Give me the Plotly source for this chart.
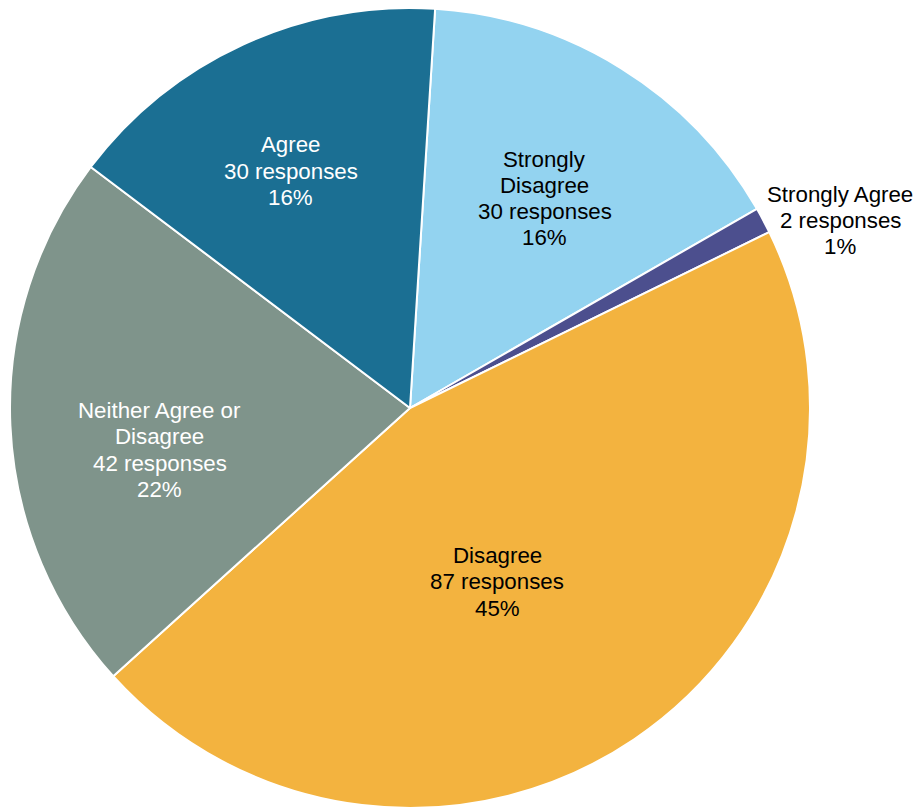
import math
import plotly.graph_objects as go

# Survey responses, listed clockwise from 12 o'clock
categories = ["Strongly Disagree", "Strongly Agree", "Disagree",
              "Neither Agree or Disagree", "Agree"]
responses = [30, 2, 87, 42, 30]
percent_labels = [16, 1, 45, 22, 16]
label_lines = [["Strongly", "Disagree"], ["Strongly Agree"], ["Disagree"],
               ["Neither Agree or", "Disagree"], ["Agree"]]

# Styling
slice_colors = ["#93D3F0", "#4C4F8E", "#F3B33F", "#7F948B", "#1B6F93"]
text_colors = ["#000000", "#000000", "#000000", "#FFFFFF", "#FFFFFF"]
# label placement: radius as a fraction of the pie radius, and an angular
# nudge (degrees, clockwise) away from the slice bisector
label_radius = [0.623, 1.173, 0.486, 0.634, 0.663]
label_nudge = [0.9, 4.4, 7.5, -7.0, -2.0]

FONT = "Liberation Sans, Arial, sans-serif"
FONT_SIZE = 22.3
LINE_STEP = 26.3
START_ANGLE = 3.6

W, H = 917, 808
ML, MR, MT, MB = 10, 107, 8, 0
plot_w, plot_h = W - ML - MR, H - MT - MB
radius_px = min(plot_w, plot_h) / 2

fig = go.Figure(go.Pie(
    labels=categories,
    values=responses,
    textinfo="none",
    marker=dict(colors=slice_colors, line=dict(color="#FFFFFF", width=2)),
    sort=False,
    direction="clockwise",
    rotation=START_ANGLE,
    showlegend=False,
    hoverinfo="label+value+percent",
    domain=dict(x=[0, 1], y=[0, 1]),
))

# Data labels, positioned from each slice's bisector
total = sum(responses)
cum = 0.0
for i, v in enumerate(responses):
    mid = START_ANGLE + (cum + v / 2) / total * 360 + label_nudge[i]
    cum += v
    r = label_radius[i] * radius_px
    theta = math.radians(mid)
    px = plot_w / 2 + r * math.sin(theta)
    py = plot_h / 2 - r * math.cos(theta)
    lines = label_lines[i] + [f"{v} responses", f"{percent_labels[i]}%"]
    n = len(lines)
    for j, line in enumerate(lines):
        fig.add_annotation(
            x=px / plot_w, y=1 - py / plot_h,
            xref="paper", yref="paper",
            text=line, showarrow=False,
            xanchor="center", yanchor="middle",
            yshift=((n - 1) / 2 - j) * LINE_STEP,
            font=dict(family=FONT, size=FONT_SIZE, color=text_colors[i]),
        )

fig.update_layout(
    width=W, height=H,
    margin=dict(l=ML, r=MR, t=MT, b=MB),
    paper_bgcolor="#FFFFFF",
    plot_bgcolor="#FFFFFF",
    font=dict(family=FONT),
)

fig.write_html("out.html")
